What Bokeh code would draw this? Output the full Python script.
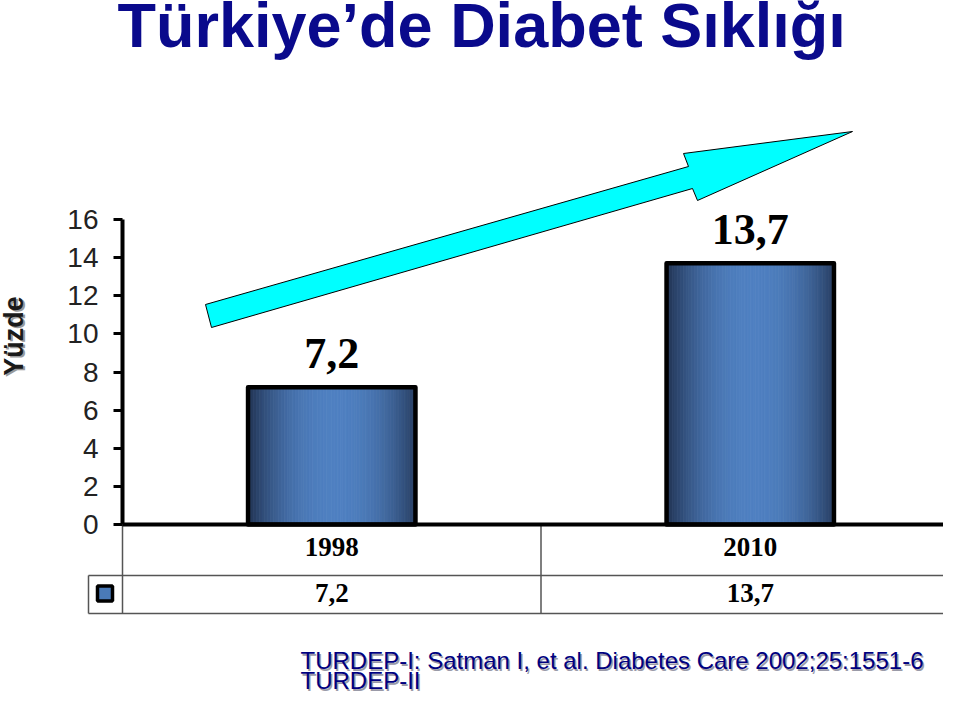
import numpy as np
from bokeh.plotting import figure
from bokeh.models import Range1d, LinearAxis, FixedTicker
from bokeh.core.properties import value
from bokeh.embed import file_html
from bokeh.resources import INLINE

# ---------------- data ----------------
title_text = "Türkiye’de Diabet Sıklığı"
years = ["1998", "2010"]
prevalence = [7.2, 13.7]
value_labels = ["7,2", "13,7"]
y_ticks = [0, 2, 4, 6, 8, 10, 12, 14, 16]
y_label = "Yüzde"
footnote = ["TURDEP-I: Satman I, et al. Diabetes Care 2002;25:1551-6", "TURDEP-II"]

# ---------------- layout helpers (canvas pixels -> data) ----------------
W, H = 943, 693
X0, XS = 122.0, 418.5          # x=0 at canvas px 122, 418.5 px per category
Y0, YS = 524.0, 305.0 / 16.0   # y=0 at canvas px 524


def dx(px):
    return (px - X0) / XS


def dy(py):
    return (Y0 - py) / YS


p = figure(width=W, height=H, output_backend="svg", toolbar_location=None,
           x_range=Range1d(dx(0), dx(W)), y_range=Range1d(dy(H), dy(0)),
           x_axis_type=None, y_axis_type=None, min_border=0)
p.outline_line_color = None
p.background_fill_color = "white"
p.border_fill_color = "white"

n = len(years)
cat_x = [i + 0.5 for i in range(n)]
BAR_W = 0.40

# ---------------- arrow (decoration) ----------------
arrow_px = [(205, 304), (688, 166), (683, 153), (852, 131), (697, 200), (692, 188), (211, 327)]
p.patch([dx(a) for a, b in arrow_px], [dy(b) for a, b in arrow_px],
        fill_color="#00FFFF", line_color="black", line_width=1)

# ---------------- bars with horizontal gradient ----------------
N = 60
dark = np.array([36, 56, 90], dtype=float)
light = np.array([79, 128, 193], dtype=float)
L, R, T, C = [], [], [], []
for cx, v in zip(cat_x, prevalence):
    edges = np.linspace(cx - BAR_W / 2, cx + BAR_W / 2, N + 1)
    for i in range(N):
        t = (i + 0.5) / N
        w = 1 - abs(2 * (t - 0.02) - 1) ** 2.2
        w = max(0.0, min(1.0, w))
        c = dark + (light - dark) * w
        L.append(edges[i]); R.append(edges[i + 1]); T.append(v)
        C.append("#%02x%02x%02x" % tuple(int(round(k)) for k in c))
p.quad(left=L, right=R, top=T, bottom=0, fill_color=C, line_color=C, line_width=0.8)
p.quad(left=[x - BAR_W / 2 for x in cat_x], right=[x + BAR_W / 2 for x in cat_x],
       top=prevalence, bottom=0, fill_color=None, line_color="black",
       line_width=4.5, line_join="round")

# value labels above bars (34 px above the bar top)
p.text(x=cat_x, y=[v + 34 / YS for v in prevalence], text=value_labels,
       text_align="center", text_baseline="middle",
       text_font=value("Liberation Serif"), text_font_style="bold",
       text_font_size="44px", text_color="black")

# ---------------- axes ----------------
yax = LinearAxis(fixed_location=0, bounds=(0, 16), ticker=FixedTicker(ticks=y_ticks))
yax.axis_line_width = 4
yax.axis_line_color = "black"
yax.major_tick_line_width = 3
yax.major_tick_line_color = "black"
yax.major_tick_out = 9
yax.major_tick_in = 0
yax.minor_tick_line_color = None
yax.major_label_text_font = "Liberation Sans"
yax.major_label_text_font_size = "28px"
yax.major_label_text_color = "#222222"
yax.major_label_standoff = 15
p.add_layout(yax, "left")

xax = LinearAxis(fixed_location=0, bounds=(0, n), ticker=FixedTicker(ticks=[]))
xax.axis_line_width = 4
xax.axis_line_color = "black"
xax.major_tick_line_color = None
xax.minor_tick_line_color = None
xax.major_label_text_font_size = "0px"
p.add_layout(xax, "below")

# ---------------- data table ----------------
x_leg = dx(88)
y_div = dy(575)
y_bot = dy(613)
seg_x0, seg_y0, seg_x1, seg_y1 = [], [], [], []
for b in range(n):
    seg_x0.append(b); seg_y0.append(0); seg_x1.append(b); seg_y1.append(y_bot)
seg_x0 += [x_leg, x_leg, x_leg]
seg_y0 += [y_div, y_div, y_bot]
seg_x1 += [x_leg, n, n]
seg_y1 += [y_bot, y_div, y_bot]
p.segment(x0=seg_x0, y0=seg_y0, x1=seg_x1, y1=seg_y1, line_color="#555555", line_width=1.5)

p.text(x=cat_x, y=[dy(546)] * n, text=years, text_align="center", text_baseline="middle",
       text_font=value("Liberation Serif"), text_font_style="bold",
       text_font_size="27px", text_color="black")
p.text(x=cat_x, y=[dy(592)] * n, text=value_labels, text_align="center", text_baseline="middle",
       text_font=value("Liberation Serif"), text_font_style="bold",
       text_font_size="27px", text_color="black")
p.rect(x=[dx(104.5)], y=[dy(593)], width=15, height=15, width_units="screen",
       height_units="screen", fill_color="#4a7ab8", line_color="black", line_width=3.5)

# ---------------- texts ----------------
p.text(x=[dx(117)], y=[dy(24)], text=[title_text], text_align="left",
       text_baseline="middle", text_font=value("Liberation Sans"),
       text_font_style="bold", text_font_size="63px", text_color="#0a0a8c")

p.text(x=[dx(15)], y=[dy(337)], text=[y_label], angle=np.pi / 2, text_align="center",
       text_baseline="middle", text_font=value("Liberation Sans"),
       text_font_style="bold", text_font_size="27px", text_color="#9a9a9a")
p.text(x=[dx(13.5)], y=[dy(335.5)], text=[y_label], angle=np.pi / 2, text_align="center",
       text_baseline="middle", text_font=value("Liberation Sans"),
       text_font_style="bold", text_font_size="27px", text_color="#1a1a1a")

fy = [dy(660), dy(680)]
p.text(x=[dx(301.5)] * 2, y=[v - 1.5 / YS for v in fy], text=footnote, text_align="left",
       text_baseline="middle", text_font=value("Liberation Sans"),
       text_font_size="24px", text_color="#9a9aa8")
p.text(x=[dx(300)] * 2, y=fy, text=footnote, text_align="left",
       text_baseline="middle", text_font=value("Liberation Sans"),
       text_font_size="24px", text_color="#00007f")

open("out.html", "w").write(file_html(p, INLINE))
